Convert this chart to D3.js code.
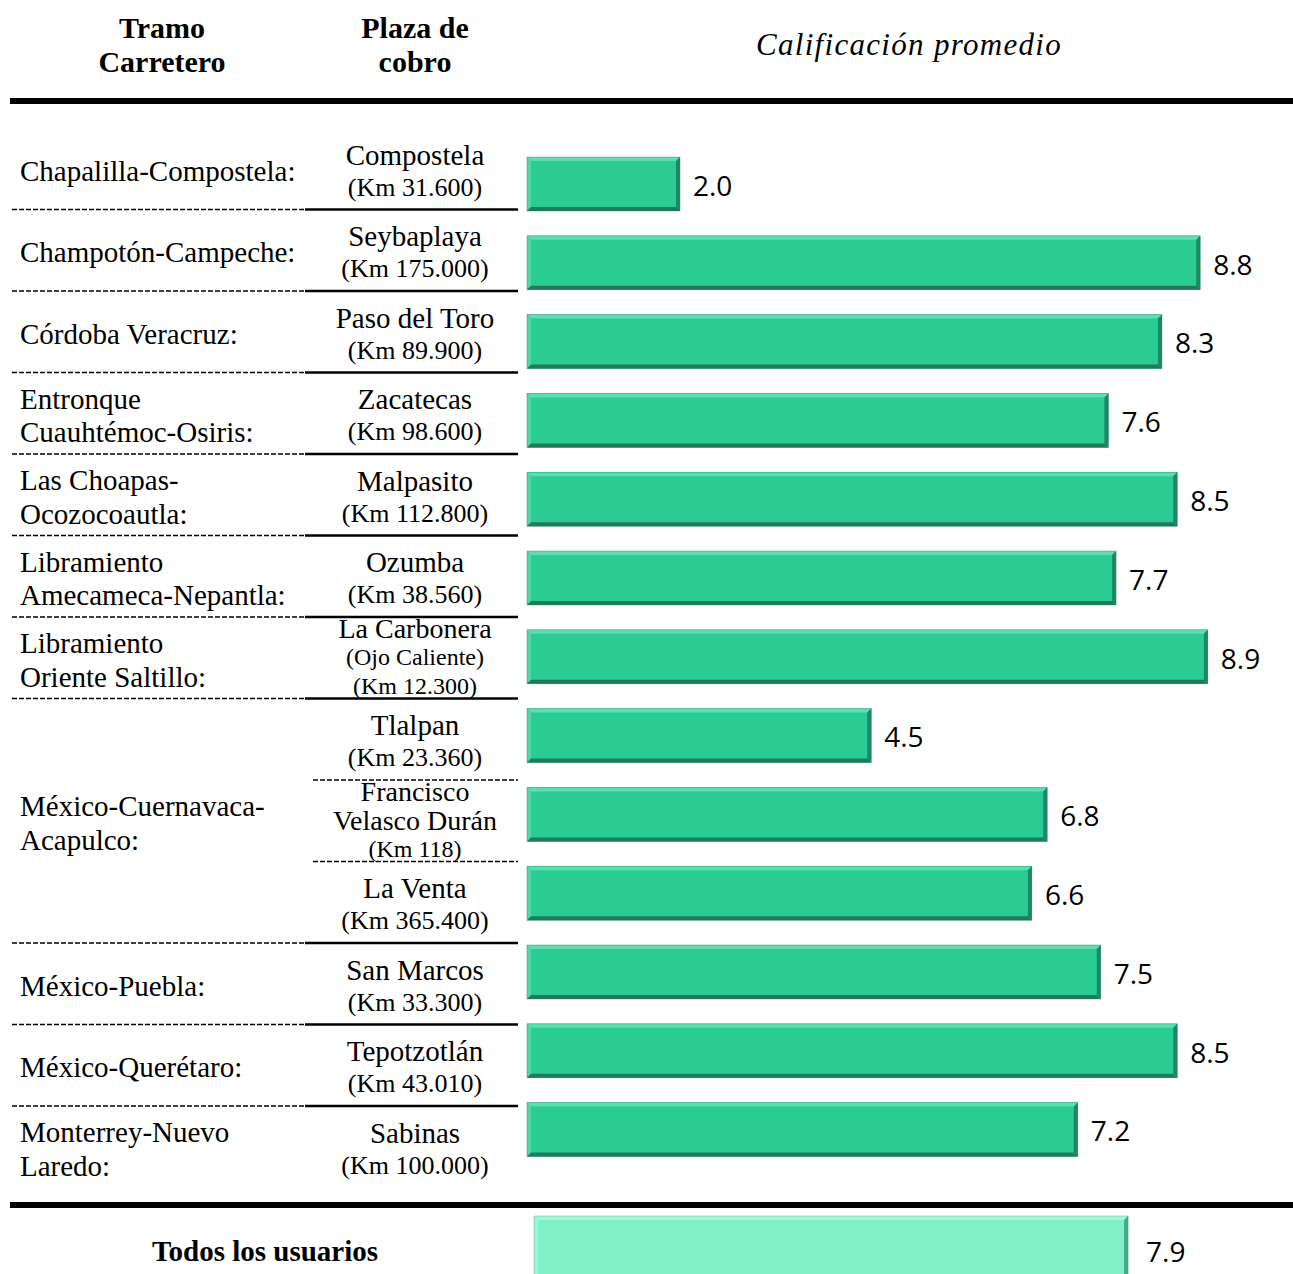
<!DOCTYPE html>
<html>
<head>
<meta charset="utf-8">
<script src="https://cdn.jsdelivr.net/npm/d3@7"></script>
<style>
  body { margin: 0; background: #fff; }
  svg { display: block; }
</style>
</head>
<body>
<div id="chart"></div>
<script>
// data
var tramos = [
    ["Chapalilla-Compostela:"],
    ["Champotón-Campeche:"],
    ["Córdoba Veracruz:"],
    ["Entronque", "Cuauhtémoc-Osiris:"],
    ["Las Choapas-", "Ocozocoautla:"],
    ["Libramiento", "Amecameca-Nepantla:"],
    ["Libramiento", "Oriente Saltillo:"],
    ["México-Cuernavaca-", "Acapulco:"],
    ["México-Puebla:"],
    ["México-Querétaro:"],
    ["Monterrey-Nuevo", "Laredo:"]
];
var tramoSpan = [1, 1, 1, 1, 1, 1, 1, 3, 1, 1, 1];
var plazas = [
    ["Compostela", "(Km 31.600)"],
    ["Seybaplaya", "(Km 175.000)"],
    ["Paso del Toro", "(Km 89.900)"],
    ["Zacatecas", "(Km 98.600)"],
    ["Malpasito", "(Km 112.800)"],
    ["Ozumba", "(Km 38.560)"],
    ["La Carbonera", "(Ojo Caliente)", "(Km 12.300)"],
    ["Tlalpan", "(Km 23.360)"],
    ["Francisco", "Velasco Durán", "(Km 118)"],
    ["La Venta", "(Km 365.400)"],
    ["San Marcos", "(Km 33.300)"],
    ["Tepotzotlán", "(Km 43.010)"],
    ["Sabinas", "(Km 100.000)"]
];
var values = [2.0, 8.8, 8.3, 7.6, 8.5, 7.7, 8.9, 4.5, 6.8, 6.6, 7.5, 8.5, 7.2];
var totalLabel = "Todos los usuarios";
var totalValue = 7.9;

var W = 1293, H = 1274;
var serif = "'Liberation Serif', 'Times New Roman', serif";
var sans = "'Open Sans', sans-serif";

var svg = d3.select("#chart").append("svg")
    .attr("width", W)
    .attr("height", H);

var idx = d3.range(plazas.length);

// table rows and bar rows
var rowY = d3.scaleBand().domain(idx).range([128, 1187.5]);
var barY = d3.scaleBand().domain(idx).range([144.6, 1169])
    .paddingInner(0.315).paddingOuter(0.1575);
var x = d3.scaleLinear().domain([0, 10]).range([527, 1292]);
var xTotal = d3.scaleLinear().domain([0, 10]).range([534, 1286]);

// header
var hdr = svg.append("g").attr("font-family", serif).attr("fill", "#000");
[["Tramo", "Carretero", 162], ["Plaza de", "cobro", 415]].forEach(function (h) {
    hdr.append("text").attr("x", h[2]).attr("y", 27).attr("dy", "0.35em").attr("text-anchor", "middle")
        .attr("font-size", 30).attr("font-weight", "bold").text(h[0]);
    hdr.append("text").attr("x", h[2]).attr("y", 61).attr("dy", "0.35em").attr("text-anchor", "middle")
        .attr("font-size", 30).attr("font-weight", "bold").text(h[1]);
});
hdr.append("text").attr("x", 909).attr("y", 44).attr("dy", "0.35em").attr("text-anchor", "middle")
    .attr("font-size", 31).attr("font-style", "italic").attr("letter-spacing", 1.3)
    .text("Calificación promedio");

svg.append("rect").attr("x", 10).attr("y", 98).attr("width", W - 10).attr("height", 6).attr("fill", "#000");
svg.append("rect").attr("x", 10).attr("y", 1202).attr("width", W - 10).attr("height", 6).attr("fill", "#000");

// separators
var sep = svg.append("g");
var start = 0;
tramoSpan.forEach(function (span, i) {
    // sub separators inside a group
    for (var k = 1; k < span; k++) {
        var yy = rowY(start + k);
        sep.append("line").attr("x1", 313).attr("x2", 518).attr("y1", yy).attr("y2", yy)
            .attr("stroke", "#000").attr("stroke-width", 1.5).attr("stroke-dasharray", "5,2");
    }
    start += span;
    if (i < tramoSpan.length - 1) {
        var y = rowY(start);
        sep.append("line").attr("x1", 12).attr("x2", 305).attr("y1", y).attr("y2", y)
            .attr("stroke", "#000").attr("stroke-width", 1.5).attr("stroke-dasharray", "5,2");
        sep.append("line").attr("x1", 305).attr("x2", 518).attr("y1", y).attr("y2", y)
            .attr("stroke", "#000").attr("stroke-width", 2.5);
    }
});

// tramo labels
var tl = svg.append("g").attr("font-family", serif).attr("font-size", 29);
start = 0;
tramos.forEach(function (t, i) {
    var top = rowY(start);
    var bottom = rowY(start + tramoSpan[i] - 1) + rowY.bandwidth();
    var cy = (top + bottom) / 2 + 2;
    t.forEach(function (line, j) {
        tl.append("text").attr("x", 20)
            .attr("y", cy + (j - (t.length - 1) / 2) * 33.5)
            .attr("dy", "0.35em").text(line);
    });
    start += tramoSpan[i];
});

// plaza labels
var pl = svg.append("g").attr("font-family", serif).attr("text-anchor", "middle");
plazas.forEach(function (p, i) {
    var three = p.length === 3;
    var cy = rowY(i) + rowY.bandwidth() / 2 + (three ? -1 : 2);
    var step = three ? 29 : 32;
    p.forEach(function (line, j) {
        var paren = line.charAt(0) === "(";
        var fs = three ? (paren ? 24 : 28) : (paren ? 26 : 29);
        pl.append("text").attr("x", 415)
            .attr("y", cy + (j - (p.length - 1) / 2) * step)
            .attr("dy", "0.35em").attr("font-size", fs).text(line);
    });
});

// bevelled bar
function bevelBar(g, x0, x1, y0, y1, fill, light, dark) {
    var b = 4;
    g.append("rect").attr("x", x0).attr("y", y0).attr("width", x1 - x0).attr("height", y1 - y0).attr("fill", fill);
    g.append("path").attr("fill", light)
        .attr("d", "M" + x0 + "," + y0 + "H" + x1 + "L" + (x1 - b) + "," + (y0 + b) + "H" + (x0 + b) + "Z");
    g.append("path").attr("fill", light).attr("opacity", 0.7)
        .attr("d", "M" + x0 + "," + y0 + "L" + (x0 + b) + "," + (y0 + b) + "V" + (y1 - b) + "L" + x0 + "," + y1 + "Z");
    g.append("path").attr("fill", dark)
        .attr("d", "M" + x0 + "," + y1 + "H" + x1 + "L" + (x1 - b) + "," + (y1 - b) + "H" + (x0 + b) + "Z");
    g.append("path").attr("fill", dark).attr("opacity", 0.85)
        .attr("d", "M" + x1 + "," + y0 + "V" + y1 + "L" + (x1 - b) + "," + (y1 - b) + "V" + (y0 + b) + "Z");
    g.append("rect").attr("x", x0).attr("y", y0).attr("width", x1 - x0).attr("height", y1 - y0)
        .attr("fill", "none").attr("stroke", dark).attr("stroke-width", 0.6).attr("stroke-opacity", 0.6);
}

var bars = svg.append("g");
values.forEach(function (v, i) {
    bevelBar(bars, x(0), x(v), barY(i), barY(i) + barY.bandwidth(), "#2bcb94", "#5fdcb0", "#1d7d5b");
});
bars.selectAll("text.val").data(values).join("text")
    .attr("class", "val")
    .attr("x", function (d) { return x(d) + 13; })
    .attr("y", function (d, i) { return barY(i) + barY.bandwidth() / 2 + 2; })
    .attr("dy", "0.35em")
    .attr("font-family", sans).attr("font-size", 28).attr("fill", "#000")
    .text(function (d) { return d.toFixed(1); });

// total row
bevelBar(svg.append("g"), xTotal(0), xTotal(totalValue), 1216, 1290, "#7ff0c8", "#a8f6da", "#3b9c78");
svg.append("text").attr("x", xTotal(totalValue) + 18).attr("y", 1252).attr("dy", "0.35em")
    .attr("font-family", sans).attr("font-size", 28).text(totalValue.toFixed(1));
svg.append("text").attr("x", 265).attr("y", 1251).attr("dy", "0.35em").attr("text-anchor", "middle")
    .attr("font-family", serif).attr("font-size", 29).attr("font-weight", "bold").text(totalLabel);
</script>
</body>
</html>
